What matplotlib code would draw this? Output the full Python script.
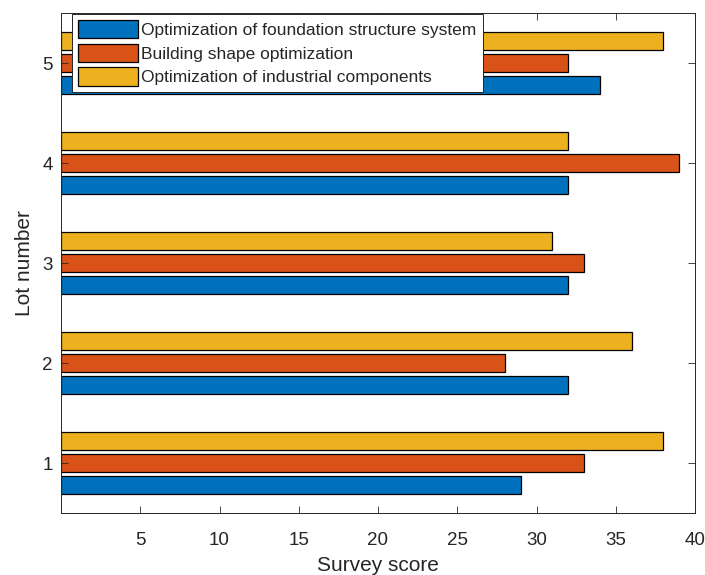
import numpy as np
import matplotlib
matplotlib.use("Agg")
import matplotlib.pyplot as plt

plt.rcParams['font.family'] = ['Liberation Sans', 'DejaVu Sans']

lots = [1, 2, 3, 4, 5]
series_names = [
    "Optimization of foundation structure system",
    "Building shape optimization",
    "Optimization of industrial components",
]
foundation = [29, 32, 32, 32, 34]
shape = [33, 28, 33, 39, 32]
components = [38, 36, 31, 32, 38]
x_ticks = [5, 10, 15, 20, 25, 30, 35, 40]

colors = ["#0072BD", "#D95319", "#EDB120"]

fig = plt.figure(figsize=(7.05, 5.75), dpi=100)
ax = fig.add_axes([61/705, 62/575, (695-61)/705, (513-13)/575])

y = np.array(lots, dtype=float)
offsets = [-0.22, 0.0, 0.22]
bar_h = 0.18
for vals, off, c, name in zip([foundation, shape, components], offsets, colors, series_names):
    ax.barh(y + off, vals, height=bar_h, color=c, edgecolor="black",
            linewidth=0.9, label=name)

ax.set_xlim(0, 40)
ax.set_ylim(0.5, 5.5)
ax.set_xticks(x_ticks)
ax.set_yticks(lots)
ax.tick_params(direction="in", top=True, right=True, length=5, width=0.6,
               colors="#262626", labelsize=13.5, labelcolor="#262626")
ax.tick_params(axis="x", pad=14)
ax.tick_params(axis="y", pad=6)
for s in ax.spines.values():
    s.set_color("#262626")
    s.set_linewidth(0.7)

ax.set_xlabel("Survey score", fontsize=15, color="#262626", labelpad=5)
ax.set_ylabel("Lot number", fontsize=15, color="#262626", labelpad=6)

leg = ax.legend(loc="upper left", bbox_to_anchor=(72/705, 1 - 14/575),
                bbox_transform=fig.transFigure, borderaxespad=0,
                fontsize=12.5, handlelength=3.45, handleheight=1.25,
                handletextpad=0.2, labelspacing=0.3, borderpad=0.35,
                fancybox=False, framealpha=1, edgecolor="#262626")
leg.get_frame().set_linewidth(0.7)
for t in leg.get_texts():
    t.set_color("#262626")

fig.savefig("out.png", dpi=100)
